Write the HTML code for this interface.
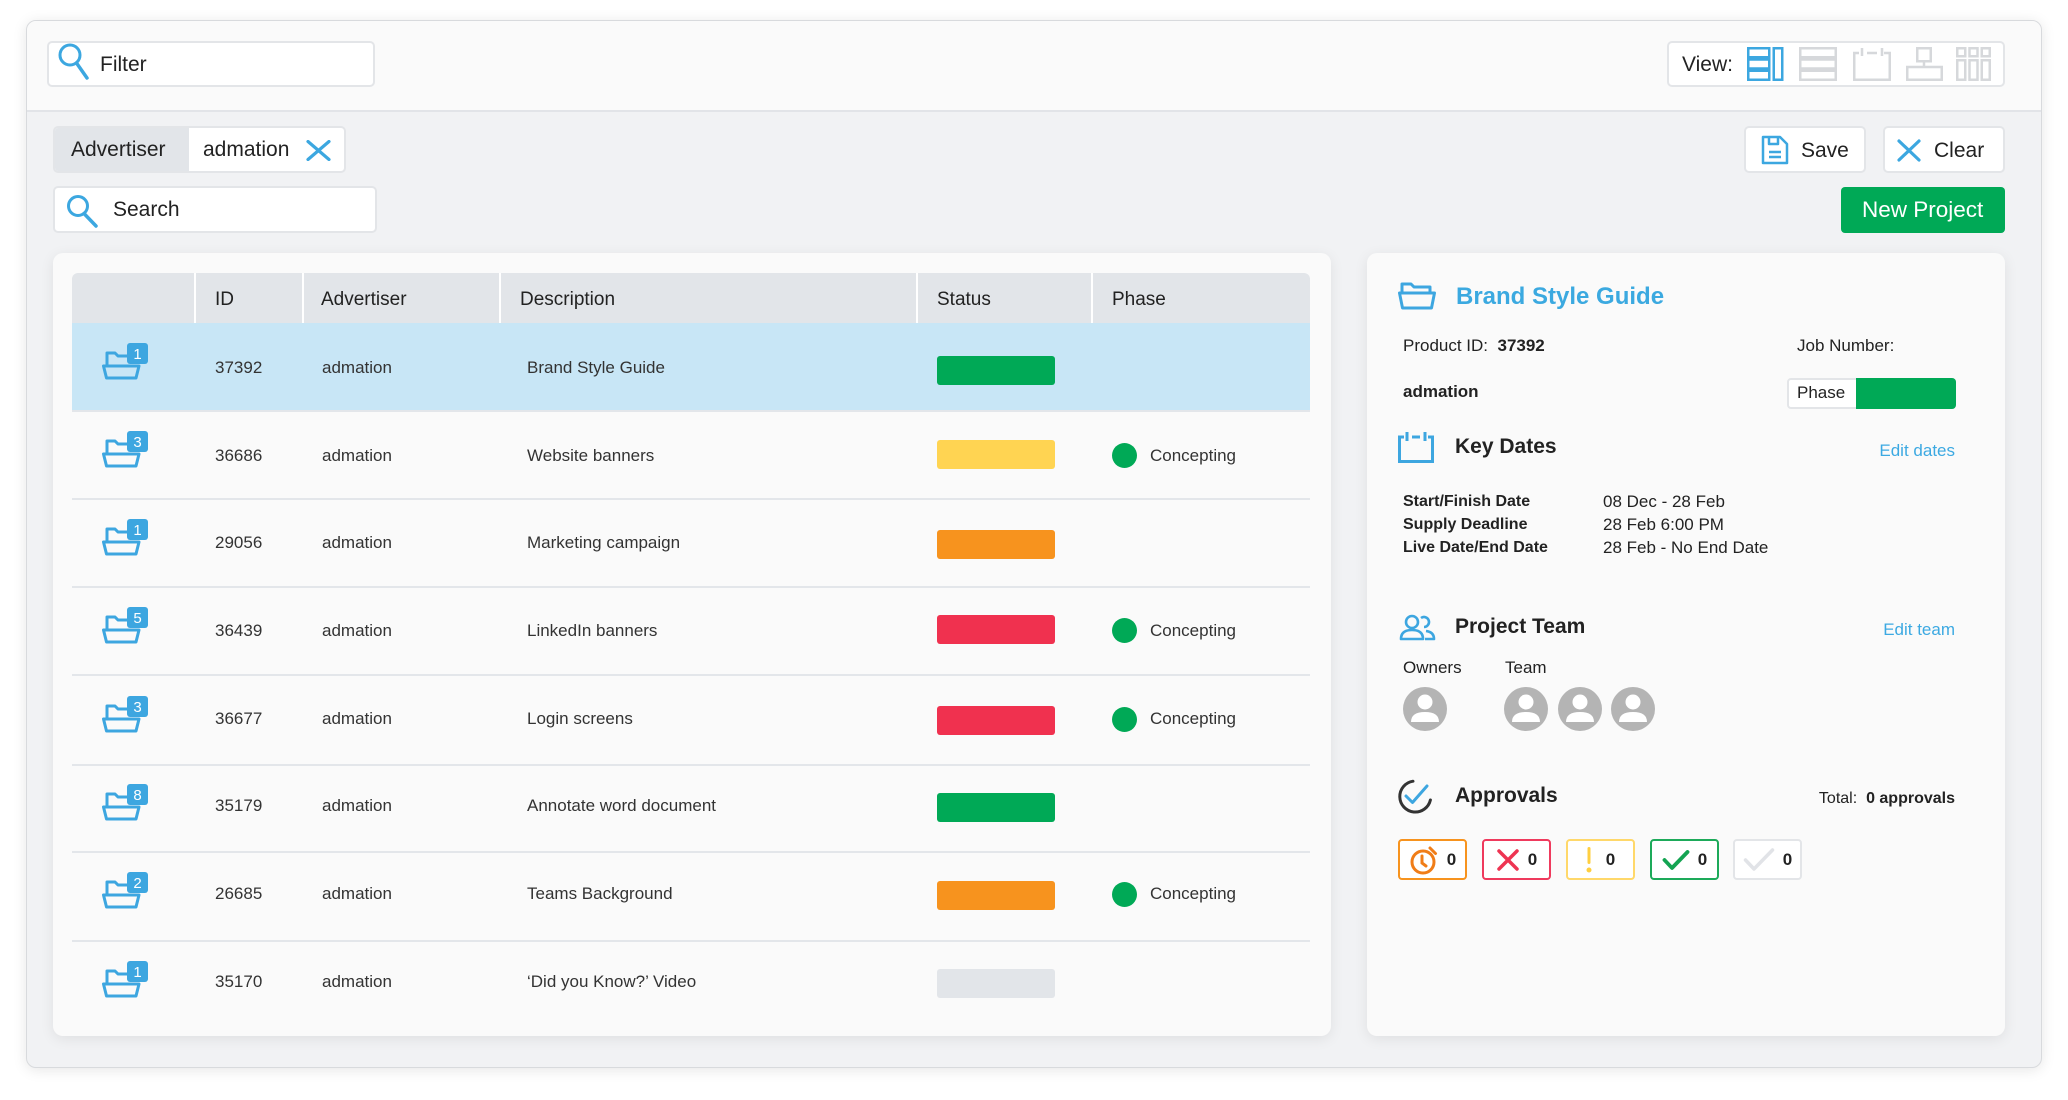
<!DOCTYPE html>
<html><head><meta charset="utf-8">
<style>
*{margin:0;padding:0;box-sizing:border-box}
html,body{width:2068px;height:1100px;background:#fff;overflow:hidden;font-family:"Liberation Sans",sans-serif;color:#222}
.a{position:absolute}
.t{position:absolute;white-space:nowrap;height:30px;line-height:30px}
.box{position:absolute;background:#fff;border:2px solid #e3e5e8;border-radius:5px}
.hd{font-size:19px;color:#222}
.rw{font-size:17px;color:#333}
.bar{position:absolute;width:118px;height:29px;border-radius:3px}
.dot{position:absolute;width:25px;height:25px;border-radius:50%;background:#00a956}
.sep{position:absolute;left:72px;width:1238px;height:2px;background:#e3e6ea}
.ap{position:absolute;top:839px;width:69px;height:41px;border:2px solid;border-radius:4px;background:#fff;display:flex;align-items:center;justify-content:center;gap:8px;font-weight:bold;font-size:17px;color:#222}
</style></head><body>

<!-- outer frame -->
<div class="a" style="left:26px;top:20px;width:2016px;height:1048px;border:1px solid #d8dadd;border-radius:10px;background:#f1f2f4;box-shadow:0 2px 14px rgba(0,0,0,0.10);overflow:hidden">
  <div class="a" style="left:0;top:0;width:2016px;height:91px;background:#fafafa;border-bottom:2px solid #e2e4e8"></div>
</div>

<!-- Filter -->
<div class="box" style="left:47px;top:41px;width:328px;height:46px"></div>
<svg class="a" style="left:57px;top:43px" width="34" height="38" viewBox="0 0 34 38"><circle cx="13" cy="12" r="10" fill="none" stroke="#3ca7e0" stroke-width="3"/><path d="M19.5 20 L30 35" stroke="#3ca7e0" stroke-width="3.5" stroke-linecap="round"/></svg>
<div class="t" style="left:100px;top:50px;font-size:21px;color:#222">Filter</div>

<!-- View box -->
<div class="box" style="left:1667px;top:41px;width:338px;height:46px"></div>
<div class="t" style="left:1682px;top:50px;font-size:21px;color:#222">View:</div>
<svg class="a" style="left:1747px;top:47px" width="37" height="34" viewBox="0 0 37 34" fill="none" stroke="#3ca7e0" stroke-width="2.5">
<rect x="1.25" y="1.25" width="21" height="9"/><rect x="1.25" y="12.5" width="21" height="9"/><rect x="1.25" y="23.75" width="21" height="9"/><rect x="26.75" y="1.25" width="8.5" height="31.5"/></svg>
<svg class="a" style="left:1799px;top:47px" width="38" height="34" viewBox="0 0 38 34" fill="none" stroke="#d6d8db" stroke-width="2.5">
<rect x="1.25" y="1.25" width="35.5" height="9"/><rect x="1.25" y="12.5" width="35.5" height="9"/><rect x="1.25" y="23.75" width="35.5" height="9"/></svg>
<svg class="a" style="left:1853px;top:47px" width="38" height="34" viewBox="0 0 38 34" fill="none" stroke="#d6d8db" stroke-width="2.5">
<path d="M6 6 H1.25 V32.75 H36.75 V6 H31"/><path d="M9 1 V9 M29 1 V9 M14 6 H24"/></svg>
<svg class="a" style="left:1906px;top:47px" width="37" height="34" viewBox="0 0 37 34" fill="none" stroke="#d6d8db" stroke-width="2.5">
<rect x="11.25" y="1.25" width="13.5" height="13"/><path d="M18 14 V20"/><rect x="1.25" y="20" width="34.5" height="12.75"/></svg>
<svg class="a" style="left:1956px;top:47px" width="35" height="34" viewBox="0 0 35 34" fill="none" stroke="#d6d8db" stroke-width="2.5">
<rect x="1.25" y="1.25" width="8" height="8"/><rect x="13.5" y="1.25" width="8" height="8"/><rect x="25.75" y="1.25" width="8" height="8"/>
<rect x="1.25" y="13.25" width="8" height="19.5"/><rect x="13.5" y="13.25" width="8" height="19.5"/><rect x="25.75" y="13.25" width="8" height="19.5"/></svg>

<!-- Advertiser chip -->
<div class="box" style="left:53px;top:126px;width:293px;height:47px;overflow:hidden">
  <div class="a" style="left:0;top:0;width:134px;height:43px;background:#e2e5e9"></div>
</div>
<div class="t" style="left:71px;top:135px;font-size:21px;color:#222">Advertiser</div>
<div class="t" style="left:203px;top:135px;font-size:21px;color:#222">admation</div>
<svg class="a" style="left:306px;top:140px" width="25" height="21" viewBox="0 0 25 21"><path d="M2 1.5 L23 19.5 M23 1.5 L2 19.5" stroke="#3ca7e0" stroke-width="3.2" stroke-linecap="round"/></svg>

<!-- Search -->
<div class="box" style="left:53px;top:186px;width:324px;height:47px"></div>
<svg class="a" style="left:66px;top:195px" width="34" height="34" viewBox="0 0 34 34"><circle cx="12" cy="11" r="9.5" fill="none" stroke="#3ca7e0" stroke-width="3"/><path d="M18 18.5 L30 31" stroke="#3ca7e0" stroke-width="3.5" stroke-linecap="round"/></svg>
<div class="t" style="left:113px;top:195px;font-size:21px;color:#222">Search</div>

<!-- Save / Clear -->
<div class="box" style="left:1744px;top:126px;width:122px;height:47px"></div>
<svg class="a" style="left:1761px;top:135px" width="28" height="30" viewBox="0 0 28 30" fill="none" stroke="#3ca7e0" stroke-width="2.5" stroke-linejoin="round">
<path d="M2 2 H19 L26 9 V28 H2 Z"/><path d="M8 2 V9 H17 V2"/><path d="M8 17 H20 M8 22 H20"/></svg>
<div class="t" style="left:1801px;top:136px;font-size:21px;color:#222">Save</div>
<div class="box" style="left:1883px;top:126px;width:122px;height:47px"></div>
<svg class="a" style="left:1897px;top:139px" width="24" height="23" viewBox="0 0 24 23"><path d="M2 2 L22 21 M22 2 L2 21" stroke="#3ca7e0" stroke-width="3.2" stroke-linecap="round"/></svg>
<div class="t" style="left:1934px;top:136px;font-size:21px;color:#222">Clear</div>

<!-- New Project -->
<div class="a" style="left:1841px;top:187px;width:164px;height:46px;background:#00a956;border-radius:4px"></div>
<div class="t" style="left:1862px;top:195px;font-size:22.5px;color:#fff">New Project</div>

<!-- Table card -->
<div class="a" style="left:53px;top:253px;width:1278px;height:783px;background:#fafafa;border-radius:10px;box-shadow:0 3px 14px rgba(0,0,0,0.08)"></div>
<div class="a" style="left:72px;top:273px;width:1238px;height:50px;background:#e2e5e9;border-radius:6px 6px 0 0"></div>
<div class="a" style="left:194px;top:273px;width:2px;height:50px;background:#fff"></div>
<div class="a" style="left:302px;top:273px;width:2px;height:50px;background:#fff"></div>
<div class="a" style="left:499px;top:273px;width:2px;height:50px;background:#fff"></div>
<div class="a" style="left:916px;top:273px;width:2px;height:50px;background:#fff"></div>
<div class="a" style="left:1091px;top:273px;width:2px;height:50px;background:#fff"></div>
<div class="t hd" style="left:215px;top:285px">ID</div>
<div class="t hd" style="left:321px;top:285px">Advertiser</div>
<div class="t hd" style="left:520px;top:285px">Description</div>
<div class="t hd" style="left:937px;top:285px">Status</div>
<div class="t hd" style="left:1112px;top:285px">Phase</div>

<!-- selected row bg -->
<div class="a" style="left:72px;top:323px;width:1238px;height:88px;background:#c8e6f6"></div>

<!-- separators -->
<div class="sep" style="top:410px"></div>
<div class="sep" style="top:498px"></div>
<div class="sep" style="top:586px"></div>
<div class="sep" style="top:674px"></div>
<div class="sep" style="top:764px"></div>
<div class="sep" style="top:851px"></div>
<div class="sep" style="top:940px"></div>

<!-- Row 0 -->
<svg class="a" style="left:102px;top:343px" width="46" height="37" viewBox="0 0 46 37"><path d="M5 23 V10 H13 L16 13 H27" fill="none" stroke="#3da6e0" stroke-width="3" stroke-linejoin="round"/><path d="M1.5 23 H37 L34 35 H4.5 Z" fill="none" stroke="#3da6e0" stroke-width="3" stroke-linejoin="round"/><rect x="25" y="0" width="21" height="21" rx="3" fill="#3da6e0"/><text x="35.5" y="16" font-size="15" fill="#fff" text-anchor="middle" font-family="Liberation Sans">1</text></svg>
<div class="t rw" style="left:215px;top:353px">37392</div>
<div class="t rw" style="left:322px;top:353px">admation</div>
<div class="t rw" style="left:527px;top:353px">Brand Style Guide</div>
<div class="bar" style="left:937px;top:356px;background:#00a956"></div>

<!-- Row 1 -->
<svg class="a" style="left:102px;top:431px" width="46" height="37" viewBox="0 0 46 37"><path d="M5 23 V10 H13 L16 13 H27" fill="none" stroke="#3da6e0" stroke-width="3" stroke-linejoin="round"/><path d="M1.5 23 H37 L34 35 H4.5 Z" fill="none" stroke="#3da6e0" stroke-width="3" stroke-linejoin="round"/><rect x="25" y="0" width="21" height="21" rx="3" fill="#3da6e0"/><text x="35.5" y="16" font-size="15" fill="#fff" text-anchor="middle" font-family="Liberation Sans">3</text></svg>
<div class="t rw" style="left:215px;top:441px">36686</div>
<div class="t rw" style="left:322px;top:441px">admation</div>
<div class="t rw" style="left:527px;top:441px">Website banners</div>
<div class="bar" style="left:937px;top:440px;background:#ffd452"></div>
<div class="dot" style="left:1112px;top:443px"></div>
<div class="t rw" style="left:1150px;top:441px">Concepting</div>

<!-- Row 2 -->
<svg class="a" style="left:102px;top:519px" width="46" height="37" viewBox="0 0 46 37"><path d="M5 23 V10 H13 L16 13 H27" fill="none" stroke="#3da6e0" stroke-width="3" stroke-linejoin="round"/><path d="M1.5 23 H37 L34 35 H4.5 Z" fill="none" stroke="#3da6e0" stroke-width="3" stroke-linejoin="round"/><rect x="25" y="0" width="21" height="21" rx="3" fill="#3da6e0"/><text x="35.5" y="16" font-size="15" fill="#fff" text-anchor="middle" font-family="Liberation Sans">1</text></svg>
<div class="t rw" style="left:215px;top:528px">29056</div>
<div class="t rw" style="left:322px;top:528px">admation</div>
<div class="t rw" style="left:527px;top:528px">Marketing campaign</div>
<div class="bar" style="left:937px;top:530px;background:#f7931e"></div>

<!-- Row 3 -->
<svg class="a" style="left:102px;top:607px" width="46" height="37" viewBox="0 0 46 37"><path d="M5 23 V10 H13 L16 13 H27" fill="none" stroke="#3da6e0" stroke-width="3" stroke-linejoin="round"/><path d="M1.5 23 H37 L34 35 H4.5 Z" fill="none" stroke="#3da6e0" stroke-width="3" stroke-linejoin="round"/><rect x="25" y="0" width="21" height="21" rx="3" fill="#3da6e0"/><text x="35.5" y="16" font-size="15" fill="#fff" text-anchor="middle" font-family="Liberation Sans">5</text></svg>
<div class="t rw" style="left:215px;top:616px">36439</div>
<div class="t rw" style="left:322px;top:616px">admation</div>
<div class="t rw" style="left:527px;top:616px">LinkedIn banners</div>
<div class="bar" style="left:937px;top:615px;background:#f0314f"></div>
<div class="dot" style="left:1112px;top:618px"></div>
<div class="t rw" style="left:1150px;top:616px">Concepting</div>

<!-- Row 4 -->
<svg class="a" style="left:102px;top:696px" width="46" height="37" viewBox="0 0 46 37"><path d="M5 23 V10 H13 L16 13 H27" fill="none" stroke="#3da6e0" stroke-width="3" stroke-linejoin="round"/><path d="M1.5 23 H37 L34 35 H4.5 Z" fill="none" stroke="#3da6e0" stroke-width="3" stroke-linejoin="round"/><rect x="25" y="0" width="21" height="21" rx="3" fill="#3da6e0"/><text x="35.5" y="16" font-size="15" fill="#fff" text-anchor="middle" font-family="Liberation Sans">3</text></svg>
<div class="t rw" style="left:215px;top:704px">36677</div>
<div class="t rw" style="left:322px;top:704px">admation</div>
<div class="t rw" style="left:527px;top:704px">Login screens</div>
<div class="bar" style="left:937px;top:706px;background:#f0314f"></div>
<div class="dot" style="left:1112px;top:707px"></div>
<div class="t rw" style="left:1150px;top:704px">Concepting</div>

<!-- Row 5 -->
<svg class="a" style="left:102px;top:784px" width="46" height="37" viewBox="0 0 46 37"><path d="M5 23 V10 H13 L16 13 H27" fill="none" stroke="#3da6e0" stroke-width="3" stroke-linejoin="round"/><path d="M1.5 23 H37 L34 35 H4.5 Z" fill="none" stroke="#3da6e0" stroke-width="3" stroke-linejoin="round"/><rect x="25" y="0" width="21" height="21" rx="3" fill="#3da6e0"/><text x="35.5" y="16" font-size="15" fill="#fff" text-anchor="middle" font-family="Liberation Sans">8</text></svg>
<div class="t rw" style="left:215px;top:791px">35179</div>
<div class="t rw" style="left:322px;top:791px">admation</div>
<div class="t rw" style="left:527px;top:791px">Annotate word document</div>
<div class="bar" style="left:937px;top:793px;background:#00a956"></div>

<!-- Row 6 -->
<svg class="a" style="left:102px;top:872px" width="46" height="37" viewBox="0 0 46 37"><path d="M5 23 V10 H13 L16 13 H27" fill="none" stroke="#3da6e0" stroke-width="3" stroke-linejoin="round"/><path d="M1.5 23 H37 L34 35 H4.5 Z" fill="none" stroke="#3da6e0" stroke-width="3" stroke-linejoin="round"/><rect x="25" y="0" width="21" height="21" rx="3" fill="#3da6e0"/><text x="35.5" y="16" font-size="15" fill="#fff" text-anchor="middle" font-family="Liberation Sans">2</text></svg>
<div class="t rw" style="left:215px;top:879px">26685</div>
<div class="t rw" style="left:322px;top:879px">admation</div>
<div class="t rw" style="left:527px;top:879px">Teams Background</div>
<div class="bar" style="left:937px;top:881px;background:#f7931e"></div>
<div class="dot" style="left:1112px;top:882px"></div>
<div class="t rw" style="left:1150px;top:879px">Concepting</div>

<!-- Row 7 -->
<svg class="a" style="left:102px;top:961px" width="46" height="37" viewBox="0 0 46 37"><path d="M5 23 V10 H13 L16 13 H27" fill="none" stroke="#3da6e0" stroke-width="3" stroke-linejoin="round"/><path d="M1.5 23 H37 L34 35 H4.5 Z" fill="none" stroke="#3da6e0" stroke-width="3" stroke-linejoin="round"/><rect x="25" y="0" width="21" height="21" rx="3" fill="#3da6e0"/><text x="35.5" y="16" font-size="15" fill="#fff" text-anchor="middle" font-family="Liberation Sans">1</text></svg>
<div class="t rw" style="left:215px;top:967px">35170</div>
<div class="t rw" style="left:322px;top:967px">admation</div>
<div class="t rw" style="left:527px;top:967px">‘Did you Know?’ Video</div>
<div class="bar" style="left:937px;top:969px;background:#e2e5e9"></div>

<!-- Right card -->
<div class="a" style="left:1367px;top:253px;width:638px;height:783px;background:#fafafa;border-radius:10px;box-shadow:0 3px 14px rgba(0,0,0,0.08)"></div>
<svg class="a" style="left:1398px;top:282px" width="38" height="28" viewBox="0 0 38 28" fill="none" stroke="#3da6e0" stroke-width="3" stroke-linejoin="round">
<path d="M4 11 V2 H13 L16 5 H32 V11"/><path d="M1.5 11 H36.5 L33.5 26 H4.5 Z"/></svg>
<div class="t" style="left:1456px;top:282px;font-size:24px;font-weight:bold;color:#3ba9e0">Brand Style Guide</div>

<div class="t" style="left:1403px;top:331px;font-size:17px;color:#222">Product ID:&nbsp; <b>37392</b></div>
<div class="t" style="left:1797px;top:331px;font-size:17px;color:#222">Job Number:</div>
<div class="t" style="left:1403px;top:377px;font-size:17px;font-weight:bold;color:#222">admation</div>
<div class="a" style="left:1787px;top:378px;width:169px;height:31px;border:2px solid #e3e5e8;border-radius:4px;background:#fff"></div>
<div class="a" style="left:1856px;top:378px;width:100px;height:31px;border-radius:0 4px 4px 0;background:#00a956"></div>
<div class="t" style="left:1797px;top:378px;font-size:17px;color:#222">Phase</div>

<svg class="a" style="left:1398px;top:431px" width="36" height="32" viewBox="0 0 36 32" fill="none" stroke="#3da6e0" stroke-width="3">
<path d="M6 6 H1.5 V30.5 H34.5 V6 H30"/><path d="M9 1 V10 M27 1 V10 M14 6 H22"/></svg>
<div class="t" style="left:1455px;top:432px;font-size:21px;font-weight:bold;color:#222">Key Dates</div>
<div class="t" style="right:113px;top:436px;font-size:17px;color:#3ca9e2">Edit dates</div>

<div class="t" style="left:1403px;top:487px;font-size:16px;font-weight:bold;color:#222">Start/Finish Date</div>
<div class="t" style="left:1403px;top:510px;font-size:16px;font-weight:bold;color:#222">Supply Deadline</div>
<div class="t" style="left:1403px;top:533px;font-size:16px;font-weight:bold;color:#222">Live Date/End Date</div>
<div class="t" style="left:1603px;top:487px;font-size:17px;color:#222">08 Dec - 28 Feb</div>
<div class="t" style="left:1603px;top:510px;font-size:17px;color:#222">28 Feb 6:00 PM</div>
<div class="t" style="left:1603px;top:533px;font-size:17px;color:#222">28 Feb - No End Date</div>

<svg class="a" style="left:1399px;top:614px" width="38" height="27" viewBox="0 0 38 27" fill="none" stroke="#3da6e0" stroke-width="2.6" stroke-linejoin="round">
<circle cx="13" cy="8" r="6"/><path d="M2 25 Q2 16 13 16 Q24 16 24 25 Z"/><path d="M22 4 A5 5 0 1 1 25 13"/><path d="M27 17 Q35 18 35 25 H26"/></svg>
<div class="t" style="left:1455px;top:612px;font-size:21px;font-weight:bold;color:#222">Project Team</div>
<div class="t" style="right:113px;top:615px;font-size:17px;color:#3ca9e2">Edit team</div>
<div class="t" style="left:1403px;top:653px;font-size:17px;color:#222">Owners</div>
<div class="t" style="left:1505px;top:653px;font-size:17px;color:#222">Team</div>

<svg class="a" style="left:1403px;top:687px" width="44" height="44" viewBox="0 0 44 44"><circle cx="22" cy="22" r="22" fill="#b4b4b4"/><circle cx="22" cy="15" r="7.5" fill="#fff"/><path d="M8 35 Q8 25 22 25 Q36 25 36 35 Z" fill="#fff"/></svg>
<svg class="a" style="left:1504px;top:687px" width="44" height="44" viewBox="0 0 44 44"><circle cx="22" cy="22" r="22" fill="#b4b4b4"/><circle cx="22" cy="15" r="7.5" fill="#fff"/><path d="M8 35 Q8 25 22 25 Q36 25 36 35 Z" fill="#fff"/></svg>
<svg class="a" style="left:1558px;top:687px" width="44" height="44" viewBox="0 0 44 44"><circle cx="22" cy="22" r="22" fill="#b4b4b4"/><circle cx="22" cy="15" r="7.5" fill="#fff"/><path d="M8 35 Q8 25 22 25 Q36 25 36 35 Z" fill="#fff"/></svg>
<svg class="a" style="left:1611px;top:687px" width="44" height="44" viewBox="0 0 44 44"><circle cx="22" cy="22" r="22" fill="#b4b4b4"/><circle cx="22" cy="15" r="7.5" fill="#fff"/><path d="M8 35 Q8 25 22 25 Q36 25 36 35 Z" fill="#fff"/></svg>

<svg class="a" style="left:1397px;top:779px" width="38" height="36" viewBox="0 0 38 36" fill="none">
<path d="M16 2.2 A15.5 15.5 0 1 0 33.4 21" stroke="#333" stroke-width="3" stroke-linecap="round"/>
<path d="M9 17 L15.5 23.5 L30 7" stroke="#3da6e0" stroke-width="3" stroke-linecap="round" stroke-linejoin="round"/></svg>
<div class="t" style="left:1455px;top:781px;font-size:21px;font-weight:bold;color:#222">Approvals</div>
<div class="t" style="right:113px;top:784px;font-size:16px;color:#222">Total:&nbsp; <b>0 approvals</b></div>

<div class="ap" style="left:1398px;border-color:#f7931e">
<svg width="30" height="30" viewBox="0 0 30 30" fill="none" stroke="#f07d18" stroke-width="3" stroke-linecap="round"><circle cx="14" cy="17" r="11"/><path d="M21 3 L26.5 8.5"/><path d="M13 11 V18 L17 21"/></svg><span>0</span></div>
<div class="ap" style="left:1482px;border-color:#ef3a5d">
<svg width="24" height="24" viewBox="0 0 24 24" fill="none" stroke="#ee3452" stroke-width="3.5" stroke-linecap="round"><path d="M3 3 L21 21 M21 3 L3 21"/></svg><span>0</span></div>
<div class="ap" style="left:1566px;border-color:#ffd86a;gap:14px">
<svg width="6" height="28" viewBox="0 0 6 28"><rect x="1.5" y="1" width="3" height="17" rx="1.5" fill="#ffcf40"/><circle cx="3" cy="24" r="2.5" fill="#ffcf40"/></svg><span>0</span></div>
<div class="ap" style="left:1650px;border-color:#1daa5a">
<svg width="28" height="22" viewBox="0 0 28 22" fill="none" stroke="#14a452" stroke-width="3.8" stroke-linecap="round" stroke-linejoin="round"><path d="M2.5 11 L10 19 L25.5 3"/></svg><span>0</span></div>
<div class="ap" style="left:1733px;border-color:#e3e5e8">
<svg width="32" height="26" viewBox="0 0 32 26" fill="none" stroke="#e1e3e7" stroke-width="3.5" stroke-linecap="round" stroke-linejoin="round"><path d="M2.5 13 L11 22 L29.5 3"/></svg><span>0</span></div>

</body></html>
